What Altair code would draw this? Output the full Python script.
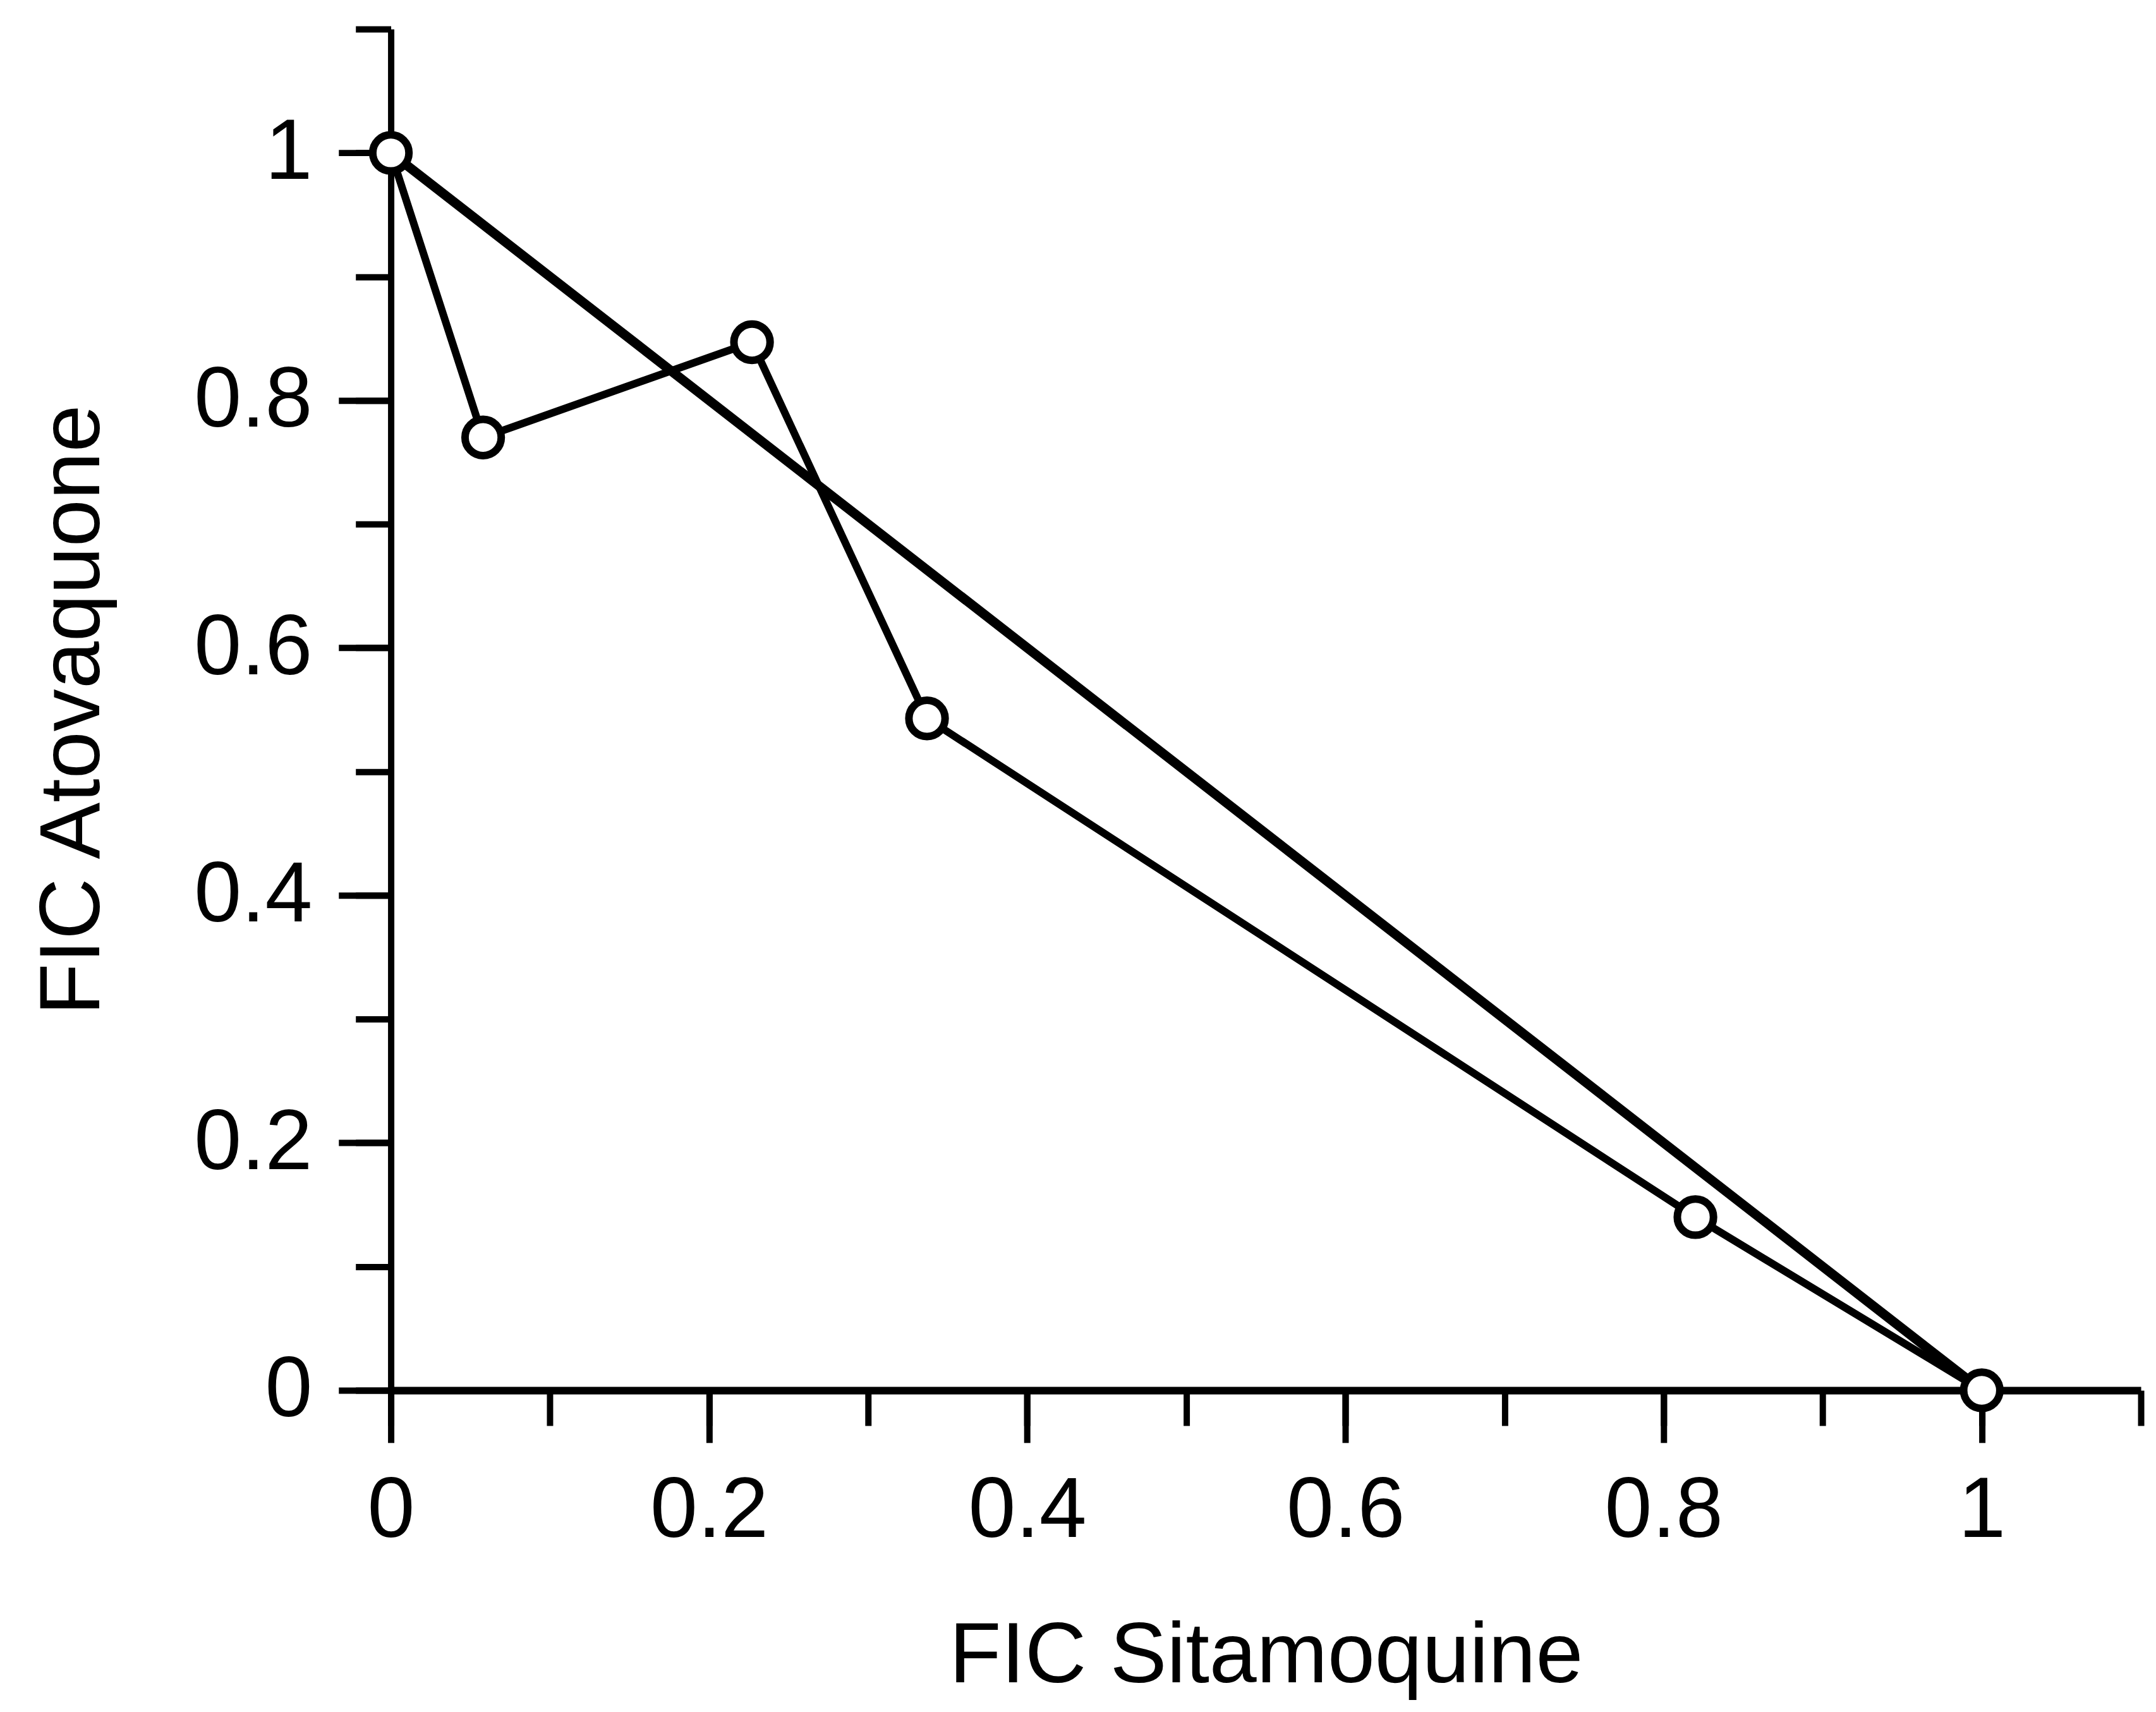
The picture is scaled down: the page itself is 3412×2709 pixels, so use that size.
import altair as alt
import pandas as pd

# Data
fic_sitamoquine = [0.0, 0.058, 0.227, 0.337, 0.82, 1.0]
fic_atovaquone = [1.0, 0.77, 0.847, 0.543, 0.14, 0.0]
additive_x = [0.0, 1.0]
additive_y = [1.0, 0.0]
major_ticks = [0, 0.2, 0.4, 0.6, 0.8, 1]
minor_ticks = [0, 0.1, 0.2, 0.3, 0.4, 0.5, 0.6, 0.7, 0.8, 0.9, 1.0, 1.1]

FONT = "Liberation Sans"
FS = 135

df = pd.DataFrame({"x": fic_sitamoquine, "y": fic_atovaquone, "o": list(range(len(fic_sitamoquine)))})
df_add = pd.DataFrame({"x": additive_x, "y": additive_y, "o": [0, 1]})

xscale = alt.Scale(domain=[0, 1.1], nice=False, zero=False)
yscale = alt.Scale(domain=[0, 1.1], nice=False, zero=False)

minor_common = dict(tickColor="black", tickWidth=10, domain=True, domainColor="black",
                    labels=False, title=None, grid=False, tickSize=56)
major_common = dict(tickColor="black", tickWidth=10, domain=False, grid=False, tickSize=83,
                    labelFont=FONT, labelFontSize=FS, labelColor="black", labelPadding=42,
                    labelFlush=False, labelOverlap=False, labelLimit=0, format="~g",
                    titleFont=FONT, titleFontSize=FS, titleFontWeight="normal", titleColor="black",
                    titleLimit=0)

additive = alt.Chart(df_add).mark_line(color="black", strokeWidth=15).encode(
    x=alt.X("x:Q", scale=xscale, axis=alt.Axis(values=minor_ticks, orient="bottom",
                                               domainWidth=12, **minor_common)),
    y=alt.Y("y:Q", scale=yscale, axis=alt.Axis(values=minor_ticks, orient="left",
                                               domainWidth=10, **minor_common)),
    order="o:Q",
)

observed = alt.Chart(df).mark_line(
    color="black", strokeWidth=12,
    point=alt.OverlayMarkDef(shape="circle", filled=True, fill="white", stroke="black",
                             strokeWidth=12, size=3300, opacity=1),
).encode(
    x=alt.X("x:Q", scale=xscale, axis=alt.Axis(values=major_ticks, orient="bottom",
                                               title="FIC Sitamoquine", titlePadding=156,
                                               **major_common)),
    y=alt.Y("y:Q", scale=yscale, axis=alt.Axis(values=major_ticks, orient="left",
                                               title="FIC Atovaquone", titlePadding=235,
                                               **major_common)),
    order="o:Q",
)

chart = alt.layer(additive, observed).resolve_axis(x="independent", y="independent").properties(
    width=2776,
    height=2159,
    autosize=alt.AutoSizeParams(type="none"),
    padding={"left": 612, "top": 35, "right": 16, "bottom": 505},
    background="white",
).configure_view(stroke=None)

chart.save("out.html", embed_options={"renderer": "svg", "actions": False})
